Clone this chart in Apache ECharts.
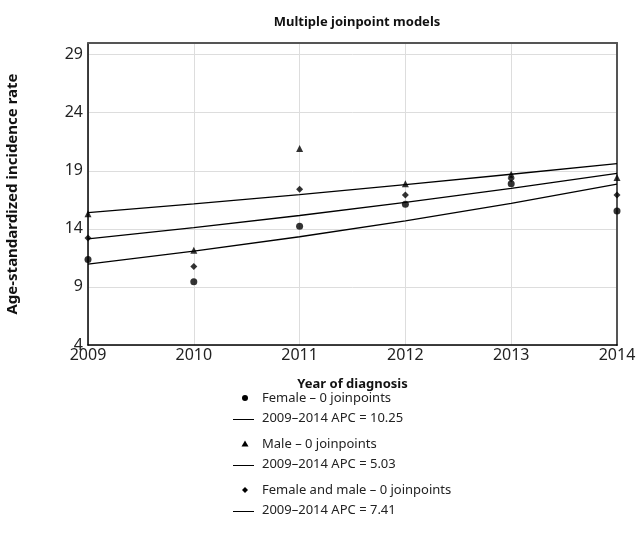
<!DOCTYPE html>
<html>
<head>
<meta charset="utf-8">
<script src="https://cdn.jsdelivr.net/npm/echarts@6/dist/echarts.min.js"></script>
<style>
  html, body { margin: 0; padding: 0; background: #fff; }
  #chart { width: 638px; height: 557px; }
</style>
</head>
<body>
<div id="chart"></div>
<script>
// years on the x axis
var years = [2009, 2010, 2011, 2012, 2013, 2014];

// observed rates (points)
var femaleObs = [11.36, 9.44, 14.22, 16.11, 17.89, 15.54];
var maleObs = [15.31, 12.16, 20.92, 17.89, 18.69, 18.41];
var bothObs = [13.22, 10.76, 17.40, 16.91, 18.32, 16.91];

// modelled rates (lines)
var femaleFit = [10.96, 12.08, 13.32, 14.69, 16.19, 17.85];
var maleFit = [15.40, 16.15, 16.95, 17.80, 18.70, 19.62];
var bothFit = [13.13, 14.10, 15.15, 16.27, 17.48, 18.77];

var yTicks = { min: 4, max: 30, step: 5 };

function pairs(vals) {
    return years.map(function (y, i) { return [y, vals[i]]; });
}

var font = '"Noto Sans", "Open Sans", sans-serif';
var chart = echarts.init(document.getElementById('chart'));

function pointSeries(name, symbol, size, vals) {
    return {
        name: name, type: 'scatter', symbol: symbol, symbolSize: size,
        itemStyle: { color: '#000' }, data: pairs(vals), z: 5
    };
}
function lineSeries(name, vals) {
    return {
        name: name, type: 'line', symbol: 'none', smooth: false,
        lineStyle: { color: '#000', width: 1.3 }, data: pairs(vals), z: 4
    };
}

// legend rows: symbol then text
var legendRows = [
    { y: 398, sym: 'circle', text: 'Female – 0 joinpoints' },
    { y: 418, sym: 'line', text: '2009–2014 APC = 10.25' },
    { y: 444, sym: 'triangle', text: 'Male – 0 joinpoints' },
    { y: 464, sym: 'line', text: '2009–2014 APC = 5.03' },
    { y: 490, sym: 'diamond', text: 'Female and male – 0 joinpoints' },
    { y: 510, sym: 'line', text: '2009–2014 APC = 7.41' }
];
var graphics = [];
legendRows.forEach(function (r) {
    graphics.push({
        type: 'text', x: 262, y: r.y,
        style: { text: r.text, font: '13px ' + font, fill: '#222', verticalAlign: 'middle' }
    });
    if (r.sym === 'line') {
        graphics.push({ type: 'line', shape: { x1: 233, y1: r.y + 1.5, x2: 254, y2: r.y + 1.5 },
            style: { stroke: '#000', lineWidth: 1 } });
    } else if (r.sym === 'circle') {
        graphics.push({ type: 'circle', shape: { cx: 245, cy: r.y, r: 3 }, style: { fill: '#000' } });
    } else if (r.sym === 'triangle') {
        graphics.push({ type: 'polygon', shape: { points: [[245, r.y - 3.5], [248.5, r.y + 2.5], [241.5, r.y + 2.5]] },
            style: { fill: '#000' } });
    } else {
        graphics.push({ type: 'polygon', shape: { points: [[245, r.y - 3], [248, r.y], [245, r.y + 3], [242, r.y]] },
            style: { fill: '#000' } });
    }
});

var option = {
    backgroundColor: '#fff',
    animation: false,
    title: {
        text: 'Multiple joinpoint models', left: 352, top: 11, textAlign: 'center',
        textStyle: { fontFamily: font, fontSize: 13, fontWeight: 'bold', color: '#111' }
    },
    grid: { left: 88, right: 21, top: 43, bottom: 212, outerBoundsMode: 'none', containLabel: false },
    xAxis: [{
        type: 'value', min: 2009, max: 2014, interval: 1,
        name: 'Year of diagnosis', nameLocation: 'middle', nameGap: 33,
        nameTextStyle: { fontFamily: font, fontSize: 13, fontWeight: 'bold', color: '#111' },
        axisLine: { lineStyle: { color: '#000', width: 1.5 } },
        axisTick: { show: false },
        axisLabel: { fontFamily: font, fontSize: 16, color: '#222', margin: 2,
            formatter: function (v) { return String(v); } },
        splitLine: { lineStyle: { color: '#ddd', width: 1 } }
    }, {
        type: 'value', position: 'top', min: 2009, max: 2014,
        axisLine: { onZero: false, lineStyle: { color: '#555', width: 2 } },
        axisTick: { show: false }, axisLabel: { show: false }, splitLine: { show: false }
    }],
    yAxis: [{
        type: 'value', min: yTicks.min, max: yTicks.max, interval: yTicks.step,
        name: 'Age-standardized incidence rate', nameLocation: 'middle', nameGap: 68,
        nameTextStyle: { fontFamily: font, fontSize: 15, fontWeight: 'bold', color: '#111' },
        axisLine: { show: true, lineStyle: { color: '#000', width: 1.5 } },
        axisTick: { show: false },
        axisLabel: { fontFamily: font, fontSize: 16, color: '#222', margin: 5, showMaxLabel: false },
        splitLine: { lineStyle: { color: '#ddd', width: 1 } }
    }, {
        type: 'value', position: 'right', min: yTicks.min, max: yTicks.max,
        axisLine: { show: true, onZero: false, lineStyle: { color: '#555', width: 2 } },
        axisTick: { show: false }, axisLabel: { show: false }, splitLine: { show: false }
    }],
    series: [
        lineSeries('Female fit', femaleFit),
        lineSeries('Male fit', maleFit),
        lineSeries('Both fit', bothFit),
        pointSeries('Female', 'circle', 7, femaleObs),
        pointSeries('Male', 'triangle', 7, maleObs),
        pointSeries('Female and male', 'diamond', 7, bothObs)
    ],
    graphic: graphics
};
chart.setOption(option);
</script>
</body>
</html>
